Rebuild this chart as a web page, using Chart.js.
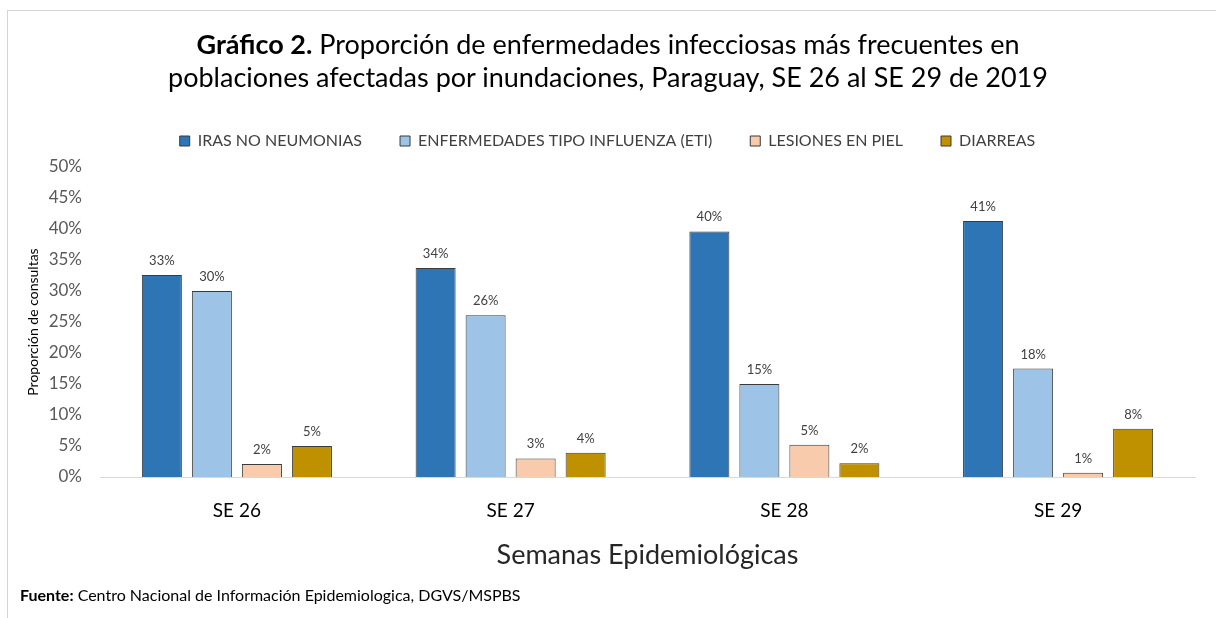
<!DOCTYPE html>
<html lang="es">
<head>
<meta charset="utf-8">
<script src="https://cdn.jsdelivr.net/npm/chart.js@4.4.1/dist/chart.umd.min.js"></script>
<style>
  html, body { margin: 0; padding: 0; background: #fff; }
  body { width: 1216px; height: 618px; position: relative; overflow: hidden; font-family: Lato, 'Open Sans', sans-serif; }
  .frame-top  { position: absolute; left: 7px; top: 10px; width: 1209px; height: 1px; background: #d4d4d4; }
  .frame-left { position: absolute; left: 7px; top: 10px; width: 1px; height: 608px; background: #d4d4d4; }
  #chart-wrap { position: absolute; left: 0; top: 0; width: 1216px; height: 618px; }
  #title {
    position: absolute; left: 0; top: 27px; width: 1216px; text-align: center;
    font-size: 27px; line-height: 33px; color: #000;
  }
  #footer { position: absolute; left: 20px; top: 585px; font-size: 16px; line-height: 20px; color: #000; }
</style>
</head>
<body>
<div class="frame-top"></div>
<div class="frame-left"></div>
<div id="chart-wrap"><canvas id="chart"></canvas></div>
<div id="title"><b>Gráfico 2.</b> Proporción de enfermedades infecciosas más frecuentes en<br>poblaciones afectadas por inundaciones, Paraguay, SE 26 al SE 29 de 2019</div>
<div id="footer"><b>Fuente:</b> Centro Nacional de Información Epidemiologica, DGVS/MSPBS</div>

<script>
/* ── DATA ── */
const weeks = ['SE 26', 'SE 27', 'SE 28', 'SE 29'];
const iras      = [32.6, 33.7, 39.6, 41.3];
const eti       = [30.0, 26.1, 15.0, 17.5];
const lesiones  = [2.1, 3.0, 5.2, 0.7];
const diarreas  = [5.0, 3.9, 2.2, 7.8];
const yTicks = [0, 5, 10, 15, 20, 25, 30, 35, 40, 45, 50];

/* ── VALUE LABELS ABOVE BARS ── */
const valueLabels = {
  id: 'valueLabels',
  afterDatasetsDraw(chart) {
    const ctx = chart.ctx;
    ctx.save();
    ctx.font = '13px Lato, sans-serif';
    ctx.fillStyle = '#404040';
    ctx.textAlign = 'center';
    ctx.textBaseline = 'alphabetic';
    chart.data.datasets.forEach((ds, i) => {
      chart.getDatasetMeta(i).data.forEach((bar, j) => {
        ctx.fillText(Math.round(ds.data[j]) + '%', bar.x, bar.y - 10);
      });
    });
    ctx.restore();
  }
};

// extra room under the legend
const legendGap = {
  id: 'legendGap',
  beforeInit(chart) {
    const fit = chart.legend.fit;
    chart.legend.fit = function () {
      fit.bind(chart.legend)();
      this.height += 8;
    };
  }
};

/* ── CHART ── */
const edge = '#3a3a3a';
new Chart(document.getElementById('chart'), {
  type: 'bar',
  data: {
    labels: weeks,
    datasets: [
      { label: 'IRAS NO NEUMONIAS', data: iras, backgroundColor: '#2E75B6', borderColor: edge, borderWidth: 1 },
      { label: 'ENFERMEDADES TIPO INFLUENZA (ETI)', data: eti, backgroundColor: '#9DC3E6', borderColor: edge, borderWidth: 1 },
      { label: 'LESIONES EN PIEL', data: lesiones, backgroundColor: '#F8CBAD', borderColor: edge, borderWidth: 1 },
      { label: 'DIARREAS', data: diarreas, backgroundColor: '#BF9000', borderColor: edge, borderWidth: 1 },
    ]
  },
  options: {
    responsive: true,
    maintainAspectRatio: false,
    animation: false,
    categoryPercentage: 0.7306,
    barPercentage: 0.8,
    layout: { padding: { top: 95, left: 20, right: 21, bottom: 47 } },
    plugins: {
      legend: {
        position: 'top',
        labels: { boxWidth: 10, boxHeight: 10, padding: 38, color: '#404040', font: { family: 'Lato', size: 16 } }
      },
      tooltip: { enabled: false }
    },
    scales: {
      x: {
        afterFit: s => { s.height = 94; },
        grid: { display: false, drawTicks: false },
        border: { display: true, color: '#d9d9d9', width: 1 },
        ticks: { color: '#000', padding: 22, font: { family: 'Lato', size: 19 } },
        title: { display: true, text: 'Semanas Epidemiológicas', color: '#262626', padding: { top: 18, bottom: 0 }, font: { family: 'Lato', size: 27 } }
      },
      y: {
        min: 0, max: 50,
        afterFit: s => { s.width = 80; },
        afterBuildTicks: s => { s.ticks = yTicks.map(v => ({ value: v })); },
        grid: { display: false, drawTicks: false },
        border: { display: false },
        ticks: { color: '#595959', padding: 18, font: { family: 'Lato', size: 17 }, callback: v => v + '%' },
        title: { display: true, text: 'Proporción de consultas', color: '#000', padding: { top: 5, bottom: 0 }, font: { family: 'Lato', size: 14 } }
      }
    }
  },
  plugins: [valueLabels, legendGap]
});
</script>
</body>
</html>
